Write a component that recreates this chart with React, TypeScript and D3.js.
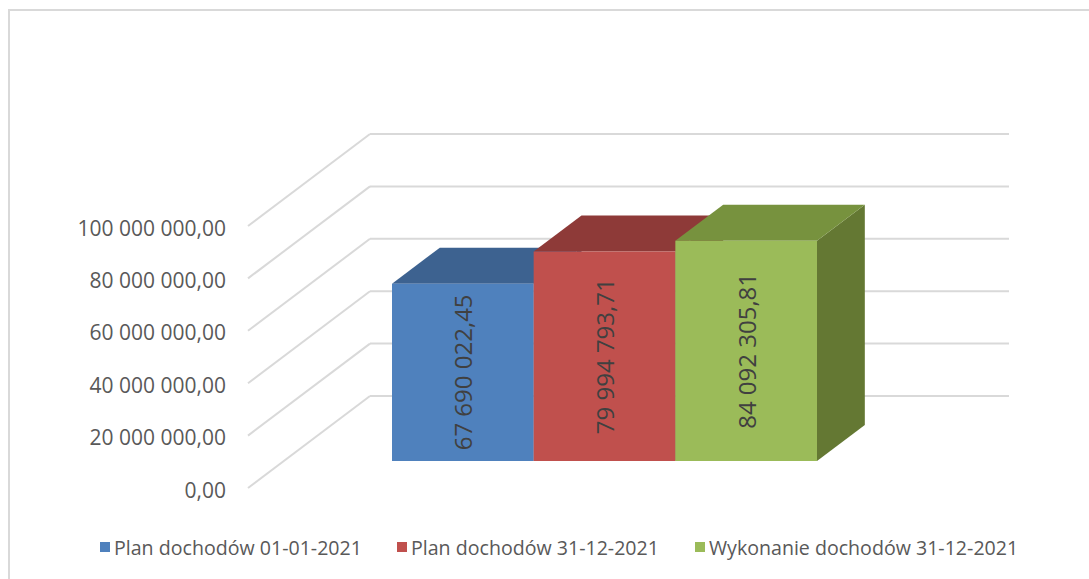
import * as d3 from 'd3';
import React from 'react';

// series (one category, three columns)
const seriesNames = [
  'Plan dochodów 01-01-2021',
  'Plan dochodów 31-12-2021',
  'Wykonanie dochodów 31-12-2021',
];
const seriesValues = [67690022.45, 79994793.71, 84092305.81];
const frontColors = ['#4F81BD', '#C0504D', '#9BBB59'];
const topColors = ['#3D6290', '#8E3A38', '#77923E'];
const sideColors = ['#36577F', '#7A3230', '#647833'];
const yTicks = [0, 20000000, 40000000, 60000000, 80000000, 100000000];
const legendX = [100, 397, 695];

const W = 1089;
const H = 579;

// floor front-left corner and depth vector of the 3d box
const origin = { x: 248, y: 488 };
const depth = { x: 122, y: -92 };
const wallRight = 1009;
const barDepth = [0.293, 0.685];

const plFormat = d3.formatLocale({
  decimal: ',',
  thousands: ' ',
  grouping: [3],
  currency: ['', ' zł'],
}).format(',.2f');

export default function App() {
  const yScale = d3.scaleLinear().domain([0, 100000000]).range([0, 262]);
  const yFront = (v: number) => origin.y - yScale(v);

  const x = d3.scaleBand<string>().domain(seriesNames).range([392, 817]).padding(0);
  const bw = x.bandwidth();

  const t1 = barDepth[0];
  const t2 = barDepth[1];
  const baseY = origin.y + depth.y * t1;
  const dx = depth.x * (t2 - t1);
  const dy = depth.y * (t2 - t1);

  const grid = '#D9D9D9';
  const font = "'Open Sans', sans-serif";

  return (
    <div style={{ position: 'fixed', left: 0, top: 0 }}>
      <svg width={W} height={H} style={{ display: 'block', background: '#fff' }}>
        <rect x={9} y={10} width={W + 20} height={H + 20} fill="#fff" stroke={grid} strokeWidth={2} />

        {/* side wall diagonals and back wall gridlines */}
        {yTicks.map((v) => {
          const y0 = yFront(v);
          return (
            <g key={'g' + v}>
              <line x1={origin.x} y1={y0} x2={origin.x + depth.x} y2={y0 + depth.y} stroke={grid} strokeWidth={2} />
              <line x1={origin.x + depth.x} y1={y0 + depth.y} x2={wallRight} y2={y0 + depth.y} stroke={grid} strokeWidth={2} />
            </g>
          );
        })}

        {/* y axis labels */}
        {yTicks.map((v) => (
          <text
            key={'t' + v}
            x={226}
            y={yFront(v) + 1.5}
            textAnchor="end"
            dominantBaseline="central"
            fontFamily={font}
            fontSize={21}
            fill="#595959"
          >
            {plFormat(v)}
          </text>
        ))}

        {/* 3d columns */}
        {seriesNames.map((name, i) => {
          const x0 = x(name) as number;
          const x1 = x0 + bw;
          const yt = baseY - yScale(seriesValues[i]);
          const front = `M${x0},${baseY}L${x1},${baseY}L${x1},${yt}L${x0},${yt}Z`;
          const top = `M${x0},${yt}L${x1},${yt}L${x1 + dx},${yt + dy}L${x0 + dx},${yt + dy}Z`;
          const side = `M${x1},${baseY}L${x1 + dx},${baseY + dy}L${x1 + dx},${yt + dy}L${x1},${yt}Z`;
          const cx = (x0 + x1) / 2;
          const cy = (baseY + yt) / 2;
          return (
            <g key={name}>
              <path d={side} fill={sideColors[i]} />
              <path d={top} fill={topColors[i]} />
              <path d={front} fill={frontColors[i]} />
              <text
                transform={`translate(${cx},${cy}) rotate(-90)`}
                textAnchor="middle"
                dominantBaseline="central"
                fontFamily={font}
                fontSize={24}
                fill="#404040"
              >
                {plFormat(seriesValues[i])}
              </text>
            </g>
          );
        })}

        {/* legend */}
        {seriesNames.map((name, i) => (
          <g key={'l' + name} transform={`translate(${legendX[i]},547)`}>
            <rect x={0} y={-5} width={10} height={10} fill={frontColors[i]} />
            <text x={14} y={0} dominantBaseline="central" fontFamily={font} fontSize={19.6} fill="#595959">
              {name}
            </text>
          </g>
        ))}
      </svg>
    </div>
  );
}
